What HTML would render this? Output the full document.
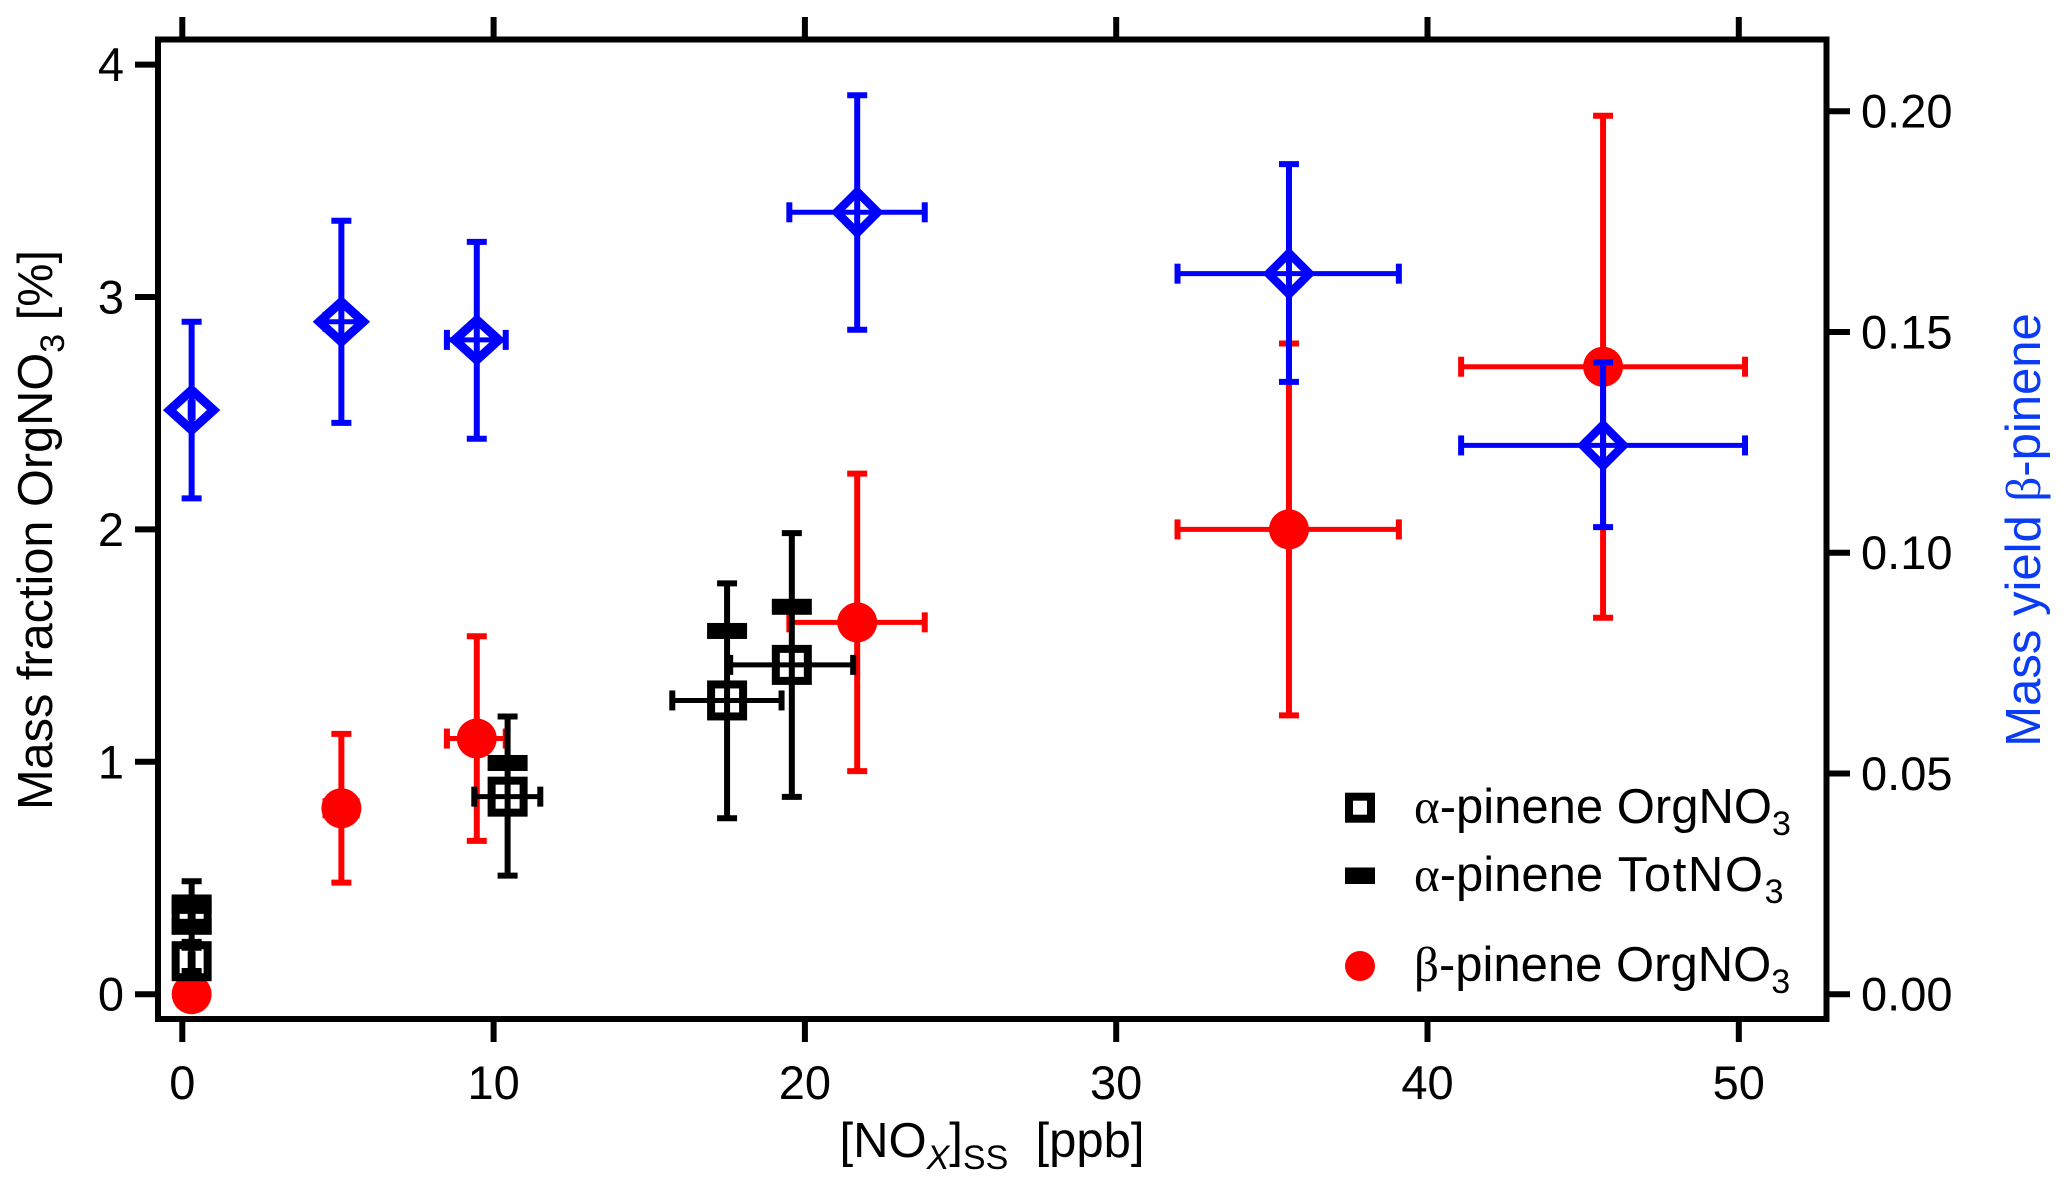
<!DOCTYPE html>
<html lang="en">
<head>
<meta charset="utf-8">
<title>Mass fraction OrgNO3 and mass yield versus NOx</title>
<style>
html,body{margin:0;padding:0;background:#fff;}
svg{display:block;}
text{font-family:"Liberation Sans",sans-serif;font-size:47px;fill:#000;}
.title{font-size:49px;}
.greek{font-family:"Liberation Serif",serif;}
</style>
</head>
<body>
<svg id="chart" xmlns="http://www.w3.org/2000/svg" width="2067" height="1187" viewBox="0 0 2067 1187">
  <rect x="0" y="0" width="2067" height="1187" fill="#fff"/>
  <g id="marks"></g>
  <rect x="158" y="39.5" width="1668.5" height="979.5" fill="none" stroke="#000" stroke-width="6"/>
  <g id="axes"></g>

  <text class="title" x="992" y="1157" text-anchor="middle">[NO<tspan font-size="34" dy="12" font-style="italic">X</tspan><tspan dy="-12">]</tspan><tspan font-size="34" dy="12">SS</tspan><tspan dy="-12" xml:space="preserve">  [ppb]</tspan></text>
  <text class="title" style="font-size:48.7px" transform="translate(52,530) rotate(-90)" text-anchor="middle">Mass fraction OrgNO<tspan font-size="34" dy="12">3</tspan><tspan dy="-12"> [%]</tspan></text>
  <text class="title" transform="translate(2040,530) rotate(-90)" text-anchor="middle" style="fill:#0a3cf5">Mass yield <tspan class="greek" style="fill:#0a3cf5">β</tspan>-pinene</text>

  <g>
    <rect x="1349" y="796.7" width="22" height="22" fill="none" stroke="#000" stroke-width="8"/>
    <rect x="1345" y="867.5" width="30" height="16.5" fill="#000"/>
    <circle cx="1360" cy="966" r="15" fill="#f00"/>
    <text class="title" x="1414" y="823"><tspan class="greek">α</tspan>-pinene OrgNO<tspan font-size="34" dy="12">3</tspan></text>
    <text class="title" x="1414" y="891"><tspan class="greek">α</tspan>-pinene <tspan letter-spacing="1.6" dx="1">TotNO</tspan><tspan font-size="34" dy="12">3</tspan></text>
    <text class="title" x="1414" y="981"><tspan class="greek">β</tspan>-pinene OrgNO<tspan font-size="34" dy="12">3</tspan></text>
  </g>
</svg>
<script>
// Axis tick labels
var xTicks = [0, 10, 20, 30, 40, 50];
var yLeftTicks = [0, 1, 2, 3, 4];
var yRightTicks = ["0.00", "0.05", "0.10", "0.15", "0.20"];

// beta-pinene OrgNO3 (left axis, red)
var betaOrgX = [0.3, 5.11, 9.46, 21.68, 35.55, 45.64];
var betaOrgXLow = [0.27, 4.6, 8.5, 19.5, 31.97, 41.08];
var betaOrgXHigh = [0.33, 5.6, 10.39, 23.85, 39.08, 50.2];
var betaOrgY = [0, 0.8, 1.1, 1.6, 2.0, 2.7];
var betaOrgYLow = [0, 0.48, 0.66, 0.96, 1.2, 1.62];
var betaOrgYHigh = [0, 1.12, 1.54, 2.24, 2.8, 3.78];

// alpha-pinene OrgNO3 (left axis, black squares)
var alphaOrgX = [0.3, 0.3, 10.45, 17.5, 19.58];
var alphaOrgXLow = [0.27, 0.27, 9.38, 15.74, 17.6];
var alphaOrgXHigh = [0.33, 0.33, 11.5, 19.25, 21.55];
var alphaOrgY = [0.142, 0.343, 0.85, 1.264, 1.417];
var alphaOrgYLow = [0.1, 0.2, 0.51, 0.757, 0.849];
var alphaOrgYHigh = [0.225, 0.486, 1.195, 1.768, 1.984];

// alpha-pinene TotNO3 (left axis, black bars)
var alphaTotX = [0.3, 0.3, 10.45, 17.5, 19.58];
var alphaTotY = [0.38, 0.29, 0.995, 1.563, 1.667];

// beta-pinene mass yield (right axis, blue diamonds)
var yieldX = [0.3, 5.11, 9.46, 21.68, 35.55, 45.64];
var yieldXLow = [0.27, 4.6, 8.5, 19.5, 31.97, 41.08];
var yieldXHigh = [0.33, 5.6, 10.39, 23.85, 39.08, 50.2];
var yieldY = [0.1323, 0.1523, 0.1482, 0.1771, 0.1632, 0.1243];
var yieldYLow = [0.1123, 0.1294, 0.1258, 0.1505, 0.1387, 0.1058];
var yieldYHigh = [0.1523, 0.1752, 0.1704, 0.2036, 0.188, 0.1431];

var SVGNS = "http://www.w3.org/2000/svg";
function xScale(v) { return 182.3 + 31.13 * v; }
function yLeft(v) { return 994.2 - 232.4 * v; }
function yRight(v) { return 994.2 - 4415 * v; }

function mk(parent, tag, attrs) {
  var el = document.createElementNS(SVGNS, tag);
  for (var k in attrs) { el.setAttribute(k, attrs[k]); }
  parent.appendChild(el);
  return el;
}
function ln(parent, x1, y1, x2, y2, color, w) {
  return mk(parent, "line", { x1: x1, y1: y1, x2: x2, y2: y2, stroke: color, "stroke-width": w });
}
function errorBars(parent, cx, cy, xLo, xHi, yLo, yHi, color) {
  var cap = 10;
  var parts = [
    ln(parent, cx, yHi, cx, yLo, color, 6),
    ln(parent, xLo, cy, xHi, cy, color, 5),
    ln(parent, cx - cap, yHi, cx + cap, yHi, color, 6),
    ln(parent, cx - cap, yLo, cx + cap, yLo, color, 6),
    ln(parent, xLo, cy - cap, xLo, cy + cap, color, 6),
    ln(parent, xHi, cy - cap, xHi, cy + cap, color, 6)
  ];
  return parts;
}

var marks = document.getElementById("marks");
var axes = document.getElementById("axes");

// Ticks and labels
xTicks.forEach(function (t) {
  var x = xScale(t);
  var bottomTick = ln(axes, x, 1019, x, 1042, "#000", 6);
  
  
  var topTick = ln(axes, x, 39.5, x, 17, "#000", 6);
  
  
  var label = mk(axes, "text", { x: x, y: 1099, "text-anchor": "middle" });
  label.textContent = String(t);
  
  
});
yLeftTicks.forEach(function (t) {
  var y = yLeft(t);
  var tick = ln(axes, 158, y, 135, y, "#000", 6);
  
  
  var label = mk(axes, "text", { x: 124, y: y + 16.5, "text-anchor": "end" });
  label.textContent = String(t);
  
  
});
yRightTicks.forEach(function (t) {
  var y = yRight(parseFloat(t));
  var tick = ln(axes, 1826.5, y, 1850, y, "#000", 6);
  
  
  var label = mk(axes, "text", { x: 1861, y: y + 16.5 });
  label.textContent = t;
  
  
});

// Red series
betaOrgX.forEach(function (v, i) {
  var g = mk(marks, "g", {});
  
  
  if (betaOrgYHigh[i] > betaOrgYLow[i]) {
    errorBars(g, xScale(v), yLeft(betaOrgY[i]), xScale(betaOrgXLow[i]), xScale(betaOrgXHigh[i]), yLeft(betaOrgYLow[i]), yLeft(betaOrgYHigh[i]), "#f00");
  }
  mk(g, "circle", { cx: xScale(v), cy: yLeft(betaOrgY[i]), r: 20, fill: "#f00" });
});

// Black series: error bars, then squares, then total bars
alphaOrgX.forEach(function (v, i) {
  var g = mk(marks, "g", {});
  
  
  errorBars(g, xScale(v), yLeft(alphaOrgY[i]), xScale(alphaOrgXLow[i]), xScale(alphaOrgXHigh[i]), yLeft(alphaOrgYLow[i]), yLeft(alphaOrgYHigh[i]), "#000");
  mk(g, "rect", { x: xScale(v) - 16, y: yLeft(alphaOrgY[i]) - 16, width: 32, height: 32, fill: "none", stroke: "#000", "stroke-width": 8 });
});
alphaTotX.forEach(function (v, i) {
  var bar = mk(marks, "rect", { x: xScale(v) - 20, y: yLeft(alphaTotY[i]) - 8, width: 40, height: 16, fill: "#000" });
  
  
});

// Blue series (the three low-NOx diamonds are drawn heavier in the figure)
yieldX.forEach(function (v, i) {
  var g = mk(marks, "g", {});
  
  
  var cx = xScale(v), cy = yRight(yieldY[i]);
  errorBars(g, cx, cy, xScale(yieldXLow[i]), xScale(yieldXHigh[i]), yRight(yieldYLow[i]), yRight(yieldYHigh[i]), "#00f");
  var heavy = v < 15;
  var dx = heavy ? 22 : 20.5;
  var dy = heavy ? 20 : 20.5;
  var sw = heavy ? 9 : 8.5;
  mk(g, "path", {
    d: "M" + cx + " " + (cy - dy) + "L" + (cx + dx) + " " + cy + "L" + cx + " " + (cy + dy) + "L" + (cx - dx) + " " + cy + "Z",
    fill: "none", stroke: "#00f", "stroke-width": sw, "stroke-linejoin": "miter"
  });
});
</script>
</body>
</html>
